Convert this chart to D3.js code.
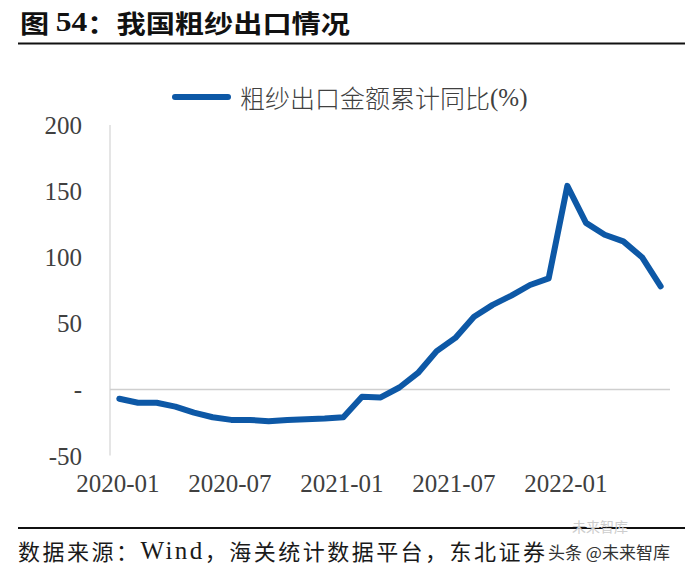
<!DOCTYPE html>
<html><head><meta charset="utf-8">
<script src="https://cdn.jsdelivr.net/npm/d3@7/dist/d3.min.js"></script>
<style>
html,body{margin:0;padding:0;background:#fff;}
svg{display:block;}
.serif{font-family:"Liberation Serif","Times New Roman","DejaVu Serif",serif;}
.cjk{font-family:"Noto Sans CJK SC","Noto Sans",sans-serif;}
</style>
</head><body>
<svg id="c" width="700" height="571"></svg>
<script>
const months = ["2020-01","2020-02","2020-03","2020-04","2020-05","2020-06","2020-07","2020-08","2020-09","2020-10","2020-11","2020-12",
"2021-01","2021-02","2021-03","2021-04","2021-05","2021-06","2021-07","2021-08","2021-09","2021-10","2021-11","2021-12",
"2022-01","2022-02","2022-03","2022-04","2022-05","2022-06"];
const values = [-7,-10,-10,-13,-17.5,-21,-23,-23,-24,-23,-22.5,-22,-21,-5.5,-6,1.5,12.5,29,39,55,64,71,79,84,154,126,117,112,100,78];
const xTickLabels = ["2020-01","2020-07","2021-01","2021-07","2022-01"];
const yTicks = [-50,0,50,100,150,200];
const yTickLabels = ["-50","-","50","100","150","200"];
const seriesName = "粗纱出口金额累计同比";
const titleParts = ["图 ", "54", "：我国粗纱出口情况"];
const sourceParts = ["数据来源：", "Wind", "，海关统计数据平台，东北证券"];

const svg = d3.select("#c");
const blue = "#0d58a6";

const x = d3.scalePoint().domain(months).range([110, 670]).padding(0.5);
const y = d3.scaleLinear().domain([-50, 200]).range([455.6, 125]);

// title
const tt = svg.append("text").attr("x", 20).attr("y", 22).attr("dominant-baseline", "central")
  .attr("font-weight", 700).attr("font-size", 25).attr("fill", "#111")
  .attr("textLength", 330).attr("lengthAdjust", "spacingAndGlyphs");
tt.append("tspan").attr("class", "cjk").text(titleParts[0]);
tt.append("tspan").attr("class", "serif").attr("font-size", 27).text(titleParts[1]);
tt.append("tspan").attr("class", "cjk").text(titleParts[2]);
svg.append("line").attr("x1", 18).attr("x2", 685).attr("y1", 43.5).attr("y2", 43.5)
  .attr("stroke", "#111").attr("stroke-width", 2);

// legend
svg.append("line").attr("x1", 175).attr("x2", 228).attr("y1", 97).attr("y2", 97)
  .attr("stroke", blue).attr("stroke-width", 6).attr("stroke-linecap", "round");
const lt = svg.append("text").attr("x", 240).attr("y", 97).attr("dominant-baseline", "central")
  .attr("font-size", 25).attr("fill", "#404040");
lt.append("tspan").attr("class", "cjk").attr("font-weight", 300).text(seriesName);
lt.append("tspan").attr("class", "serif").text("(%)");

// y axis
const yAxis = d3.axisLeft(y).tickValues(yTicks).tickSize(0).tickPadding(0)
  .tickFormat((d, i) => yTickLabels[i]);
const gy = svg.append("g").attr("transform", "translate(82,0)").call(yAxis);
gy.attr("font-family", null);
gy.select(".domain").remove();
gy.selectAll("text").attr("class", "serif")
  .style("font-family", '"Liberation Serif","Times New Roman","DejaVu Serif",serif')
  .attr("font-size", 25).attr("fill", "#404040").attr("dy", "0.34em");

svg.append("line").attr("x1", 110).attr("x2", 110).attr("y1", y(200)).attr("y2", y(-50))
  .attr("stroke", "#d4d4d4").attr("stroke-width", 1.2);
svg.append("line").attr("x1", 110).attr("x2", 670).attr("y1", y(0)).attr("y2", y(0))
  .attr("stroke", "#cfcfcf").attr("stroke-width", 1.5);

// x axis
const xAxis = d3.axisBottom(x).tickValues(xTickLabels).tickSize(0).tickPadding(0);
const gx = svg.append("g").attr("transform", "translate(-2,474)").call(xAxis);
gx.attr("font-family", null);
gx.select(".domain").remove();
gx.selectAll("text").attr("class", "serif")
  .style("font-family", '"Liberation Serif","Times New Roman","DejaVu Serif",serif')
  .attr("font-size", 25).attr("fill", "#404040").attr("dy", "0.71em");

// series line
const line = d3.line().x((d, i) => x(months[i])).y(d => y(d));
svg.append("path").datum(values).attr("d", line).attr("fill", "none")
  .attr("stroke", blue).attr("stroke-width", 6).attr("stroke-linejoin", "round").attr("stroke-linecap", "round");

// footer
svg.append("line").attr("x1", 18).attr("x2", 685).attr("y1", 528).attr("y2", 528)
  .attr("stroke", "#111").attr("stroke-width", 2);
const ft = svg.append("text").attr("x", 18).attr("y", 550).attr("dominant-baseline", "central")
  .attr("font-size", 22).attr("fill", "#1a1a1a")
  .attr("textLength", 527).attr("lengthAdjust", "spacing");
ft.append("tspan").attr("class", "cjk").text(sourceParts[0]);
ft.append("tspan").attr("class", "serif").attr("font-size", 25).text(sourceParts[1]);
ft.append("tspan").attr("class", "cjk").text(sourceParts[2]);
svg.append("text").attr("x", 572).attr("y", 526).attr("dominant-baseline", "central")
  .attr("class", "cjk").attr("font-size", 14).attr("fill", "#cdcdcd")
  .text("未来智库");
svg.append("text").attr("x", 548).attr("y", 551).attr("dominant-baseline", "central")
  .attr("class", "cjk").attr("font-size", 17).attr("fill", "#333")
  .text("头条 @未来智库");
</script>
</body></html>
